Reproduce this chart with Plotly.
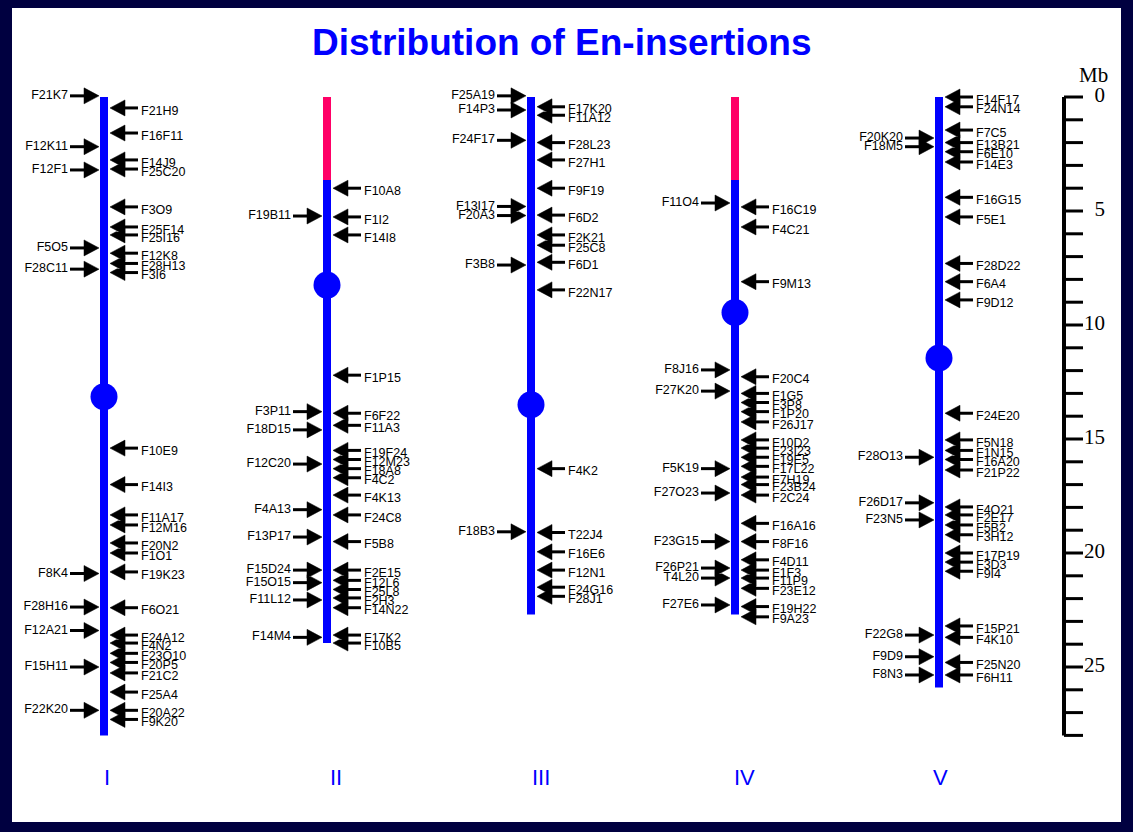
import plotly.graph_objects as go

# ---------------- data ----------------
chrom_names = ["I", "II", "III", "IV", "V"]
chrom_len = [28.0, 23.95, 22.7, 22.7, 25.9]          # Mb
centromere = [13.15, 8.25, 13.5, 9.45, 11.45]        # Mb
pink_end = [0.0, 3.64, 0.0, 3.64, 0.0]               # Mb (unsequenced top segment)

left_labels = [
    ["F21K7", "F12K11", "F12F1", "F5O5", "F28C11", "F8K4", "F28H16", "F12A21", "F15H11", "F22K20"],
    ["F19B11", "F3P11", "F18D15", "F12C20", "F4A13", "F13P17", "F15D24", "F15O15", "F11L12", "F14M4"],
    ["F25A19", "F14P3", "F24F17", "F13I17", "F20A3", "F3B8", "F18B3"],
    ["F11O4", "F8J16", "F27K20", "F5K19", "F27O23", "F23G15", "F26P21", "T4L20", "F27E6"],
    ["F20K20", "F18M5", "F28O13", "F26D17", "F23N5", "F22G8", "F9D9", "F8N3"],
]
left_mb = [
    [-0.05, 2.18, 3.2, 6.62, 7.55, 20.9, 22.37, 23.4, 25.0, 26.9],
    [5.22, 13.8, 14.6, 16.1, 18.1, 19.3, 20.75, 21.3, 22.06, 23.7],
    [-0.05, 0.57, 1.9, 4.8, 5.2, 7.37, 19.07],
    [4.65, 11.97, 12.9, 16.3, 17.37, 19.5, 20.66, 21.1, 22.28],
    [1.8, 2.18, 15.8, 17.8, 18.55, 23.6, 24.55, 25.35],
]
right_labels = [
    ["F21H9", "F16F11", "F14J9", "F25C20", "F3O9", "F25F14", "F25I16", "F12K8", "F28H13", "F3I6",
     "F10E9", "F14I3", "F11A17", "F12M16", "F20N2", "F1O1", "F19K23", "F6O21", "F24A12", "F4N2",
     "F23O10", "F20P5", "F21C2", "F25A4", "F20A22", "F9K20"],
    ["F10A8", "F1I2", "F14I8", "F1P15", "F6F22", "F11A3", "F19F24", "F12M23", "F18A8", "F4C2",
     "F4K13", "F24C8", "F5B8", "F2E15", "F12L6", "F25L8", "F2H3", "F14N22", "F17K2", "F10B5"],
    ["F17K20", "F11A12", "F28L23", "F27H1", "F9F19", "F6D2", "F2K21", "F25C8", "F6D1", "F22N17",
     "F4K2", "T22J4", "F16E6", "F12N1", "F24G16", "F28J1"],
    ["F16C19", "F4C21", "F9M13", "F20C4", "F1G5", "F3P8", "F1P20", "F26J17", "F10D2", "F23I23",
     "F19E5", "F17L22", "F7H19", "F23B24", "F2C24", "F16A16", "F8F16", "F4D11", "F1F3", "F11P9",
     "F23E12", "F19H22", "F9A23"],
    ["F14F17", "F24N14", "F7C5", "F13B21", "F6E10", "F14E3", "F16G15", "F5E1", "F28D22", "F6A4",
     "F9D12", "F24E20", "F5N18", "F1N15", "F16A20", "F21P22", "F4O21", "F2E17", "F5B2", "F3H12",
     "F17P19", "F3D3", "F9I4", "F15P21", "F4K10", "F25N20", "F6H11"],
]
right_mb = [
    [0.48, 1.58, 2.76, 3.16, 4.82, 5.7, 6.05, 6.85, 7.3, 7.7,
     15.4, 17.0, 18.33, 18.77, 19.56, 20.0, 20.83, 22.4, 23.6, 23.95,
     24.4, 24.8, 25.26, 26.1, 26.9, 27.3],
    [4.0, 5.26, 6.05, 12.2, 13.87, 14.4, 15.5, 15.9, 16.3, 16.7,
     17.46, 18.33, 19.5, 20.75, 21.2, 21.6, 21.97, 22.4, 23.6, 23.95],
    [0.43, 0.8, 2.0, 2.76, 4.0, 5.18, 6.05, 6.5, 7.25, 8.46,
     16.3, 19.1, 19.95, 20.75, 21.5, 21.9],
    [4.82, 5.7, 8.1, 12.27, 13.0, 13.4, 13.8, 14.25, 15.04, 15.4,
     15.8, 16.2, 16.67, 17.0, 17.46, 18.7, 19.5, 20.3, 20.75, 21.1,
     21.55, 22.35, 22.8],
    [0.0, 0.43, 1.45, 2.0, 2.4, 2.85, 4.4, 5.26, 7.3, 8.1,
     8.9, 13.87, 15.04, 15.5, 15.9, 16.36, 17.98, 18.33, 18.77, 19.2,
     20.0, 20.4, 20.8, 23.2, 23.7, 24.8, 25.35],
]
scale_max = 28
scale_ticks = list(range(0, 29))
scale_labels = [0, 5, 10, 15, 20, 25]

# ---------------- layout geometry ----------------
W, H = 1133, 832
ML, MR, MT, MB_ = 12, 12, 8, 10
PX0, PPM = 97.0, 22.8            # pixel row of 0 Mb, pixels per Mb
chrom_x = [104, 327, 531, 735, 939]
numeral_x = [107, 336, 541, 744, 940]
BLUE, PINK, NAVY = "#0000FF", "#FF0066", "#000040"

def px2mb(py):
    return (py - PX0) / PPM

fig = go.Figure()

# chromosomes
for cx, L, c, p in zip(chrom_x, chrom_len, centromere, pink_end):
    if p > 0:
        fig.add_trace(go.Scatter(x=[cx, cx], y=[0, p], mode="lines",
                                 line=dict(color=PINK, width=8)))
    fig.add_trace(go.Scatter(x=[cx, cx], y=[p, L], mode="lines",
                             line=dict(color=BLUE, width=8)))
    fig.add_trace(go.Scatter(x=[cx], y=[c], mode="markers",
                             marker=dict(color=BLUE, size=27, line=dict(width=0))))

# arrows
hh = 8.0 / PPM  # half arrowhead height in Mb
sx, sy, hx, hy = [], [], [], []
rtx, rty, rtt, ltx, lty, ltt = [], [], [], [], [], []
for cx, ll, lm, rl, rm in zip(chrom_x, left_labels, left_mb, right_labels, right_mb):
    for lab, m in zip(rl, rm):
        sx += [cx + 17, cx + 34, None]; sy += [m, m, None]
        hx += [cx + 6, cx + 21, cx + 21, cx + 6, None]
        hy += [m, m - hh, m + hh, m, None]
        rtx.append(cx + 37); rty.append(m + 3.5 / PPM); rtt.append(lab)
    for lab, m in zip(ll, lm):
        sx += [cx - 34, cx - 17, None]; sy += [m, m, None]
        hx += [cx - 5, cx - 20, cx - 20, cx - 5, None]
        hy += [m, m - hh, m + hh, m, None]
        ltx.append(cx - 36); lty.append(m); ltt.append(lab)

fig.add_trace(go.Scatter(x=sx, y=sy, mode="lines", line=dict(color="black", width=3)))
fig.add_trace(go.Scatter(x=hx, y=hy, mode="lines", fill="toself", fillcolor="black",
                         line=dict(color="black", width=0.5)))
lab_font = dict(family="Liberation Sans, Arial, sans-serif", size=12.5, color="black")
fig.add_trace(go.Scatter(x=rtx, y=rty, text=rtt, mode="text", textposition="middle right",
                         textfont=lab_font))
fig.add_trace(go.Scatter(x=ltx, y=lty, text=ltt, mode="text", textposition="middle left",
                         textfont=lab_font))

# scale bar
SX = 1064
fig.add_trace(go.Scatter(x=[SX, SX], y=[0, scale_max], mode="lines",
                         line=dict(color="black", width=4)))
tx, ty = [], []
for t in scale_ticks:
    tx += [SX, SX + 19, None]; ty += [t, t, None]
fig.add_trace(go.Scatter(x=tx, y=ty, mode="lines", line=dict(color="black", width=3)))
serif = dict(family="Liberation Serif, Times New Roman, serif", size=21, color="black")
fig.add_trace(go.Scatter(x=[1105] * len(scale_labels), y=scale_labels,
                         text=[str(v) for v in scale_labels], mode="text",
                         textposition="middle left", textfont=serif))
fig.add_annotation(x=1093, y=px2mb(75), text="Mb", showarrow=False, font=serif,
                   xanchor="center", yanchor="middle")

# chromosome numerals
for nx, name in zip(numeral_x, chrom_names):
    fig.add_annotation(x=nx, y=px2mb(777), text=name, showarrow=False,
                       font=dict(family="Liberation Sans, Arial, sans-serif", size=22, color=BLUE),
                       xanchor="center", yanchor="middle")

# title
fig.add_annotation(x=561, y=px2mb(42), text="<b>Distribution of En-insertions</b>", showarrow=False,
                   font=dict(family="Liberation Sans, Arial, sans-serif", size=37, color=BLUE),
                   xanchor="center", yanchor="middle")

fig.update_layout(
    width=W, height=H, showlegend=False,
    margin=dict(l=ML, r=MR, t=MT, b=MB_, pad=0),
    paper_bgcolor=NAVY, plot_bgcolor="white",
    xaxis=dict(range=[ML, W - MR], visible=False, fixedrange=True),
    yaxis=dict(range=[px2mb(H - MB_), px2mb(MT)], visible=False, fixedrange=True),
    hovermode=False,
)

fig.write_html("out.html", config={"displayModeBar": False},
               post_script="document.body.style.margin='0';document.body.style.background='#000040';")
